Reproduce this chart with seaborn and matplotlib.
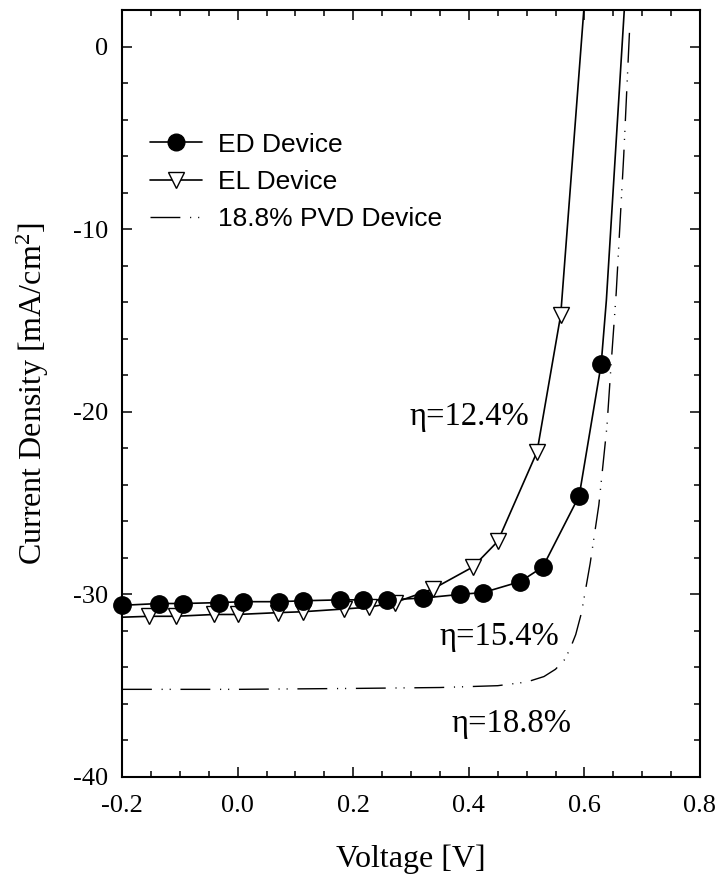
import numpy as np
import pandas as pd
import matplotlib
matplotlib.use("Agg")
import matplotlib.pyplot as plt
import seaborn as sns
from matplotlib.lines import Line2D
from matplotlib.ticker import MultipleLocator

# ---- data ----
ed_v = [-0.2, -0.136, -0.094, -0.032, 0.009, 0.072, 0.113, 0.177, 0.217, 0.258,
        0.321, 0.385, 0.425, 0.489, 0.528, 0.591, 0.629]
ed_j = [-30.6, -30.5, -30.5, -30.45, -30.4, -30.4, -30.35, -30.3, -30.3, -30.3,
        -30.2, -30.0, -29.9, -29.3, -28.5, -24.6, -17.4]
ed_line_v = ed_v + [0.638, 0.669, 0.672]
ed_line_j = ed_j + [-13.9, 2.0, 4.0]

el_v = [-0.153, -0.107, -0.041, 0.0, 0.07, 0.113, 0.184, 0.227, 0.272, 0.338,
        0.407, 0.45, 0.518, 0.559]
el_j = [-31.2, -31.2, -31.1, -31.1, -31.0, -30.95, -30.8, -30.7, -30.45, -29.7,
        -28.5, -27.1, -22.2, -14.7]
el_line_v = [-0.2] + el_v + [0.599, 0.601]
el_line_j = [-31.25] + el_j + [2.0, 4.0]

pvd_v = [-0.2, 0.0, 0.2, 0.35, 0.45, 0.5, 0.53, 0.55, 0.565, 0.575, 0.585, 0.595,
         0.61, 0.625, 0.639, 0.646, 0.655, 0.668, 0.678]
pvd_j = [-35.2, -35.2, -35.15, -35.1, -35.0, -34.8, -34.5, -34.1, -33.6, -33.0,
         -32.2, -31.0, -28.3, -25.1, -20.8, -17.5, -13.5, -6.0, 0.8]

labels = ["ED Device", "EL Device", "18.8% PVD Device"]
eff_text = ["\u03b7=12.4%", "\u03b7=15.4%", "\u03b7=18.8%"]
eff_x = [0.298, 0.35, 0.37]
eff_y = [-20.3, -32.3, -37.1]

x_ticks = [-0.2, 0.0, 0.2, 0.4, 0.6, 0.8]
y_ticks = [-40, -30, -20, -10, 0]

# ---- style ----
sns.set_theme(style="white")
plt.rcParams["font.family"] = ["Liberation Serif", "DejaVu Serif"]
plt.rcParams["mathtext.fontset"] = "custom"
plt.rcParams["mathtext.rm"] = "Liberation Serif"
plt.rcParams["mathtext.it"] = "Liberation Serif:italic"

fig = plt.figure(figsize=(7.18, 8.82), dpi=100)
ax = fig.add_axes([122/718, 1 - 777/882, 578/718, 767/882])

pvd_dash = (0, (21.5, 7.0, 0.8, 5.0, 0.8, 7.0))

ed_df = pd.DataFrame({"v": ed_line_v, "j": ed_line_j})
el_df = pd.DataFrame({"v": el_line_v, "j": el_line_j})
pvd_df = pd.DataFrame({"v": pvd_v, "j": pvd_j})

sns.lineplot(data=pvd_df, x="v", y="j", sort=False, estimator=None, ax=ax,
             color="black", lw=1.0, linestyle=pvd_dash)
sns.lineplot(data=el_df, x="v", y="j", sort=False, estimator=None, ax=ax,
             color="black", lw=1.2)
sns.lineplot(data=ed_df, x="v", y="j", sort=False, estimator=None, ax=ax,
             color="black", lw=1.2)
ax.plot(el_v, el_j, linestyle="none", marker="v", ms=12, mfc="white",
        mec="black", mew=1.0, clip_on=True, zorder=4)
ax.plot(ed_v, ed_j, linestyle="none", marker="o", ms=12.5, mfc="black",
        mec="black", clip_on=False, zorder=5)

ax.set_xlim(-0.2, 0.8)
ax.set_ylim(-40, 2)
ax.set_xticks(x_ticks)
ax.set_yticks(y_ticks)
ax.set_xticklabels([f"{t:.1f}" for t in x_ticks])
ax.set_yticklabels([str(t) for t in y_ticks])
ax.xaxis.set_minor_locator(MultipleLocator(0.05))
ax.yaxis.set_minor_locator(MultipleLocator(2))
ax.tick_params(which="both", direction="in", top=True, right=True,
               bottom=True, left=True, colors="black", width=1.1)
ax.tick_params(which="major", length=7.2, labelsize=19)
ax.tick_params(axis="x", which="major", pad=13)
ax.tick_params(axis="y", which="major", pad=10)
ax.tick_params(which="minor", length=4)
for s in ax.spines.values():
    s.set_color("black")
    s.set_linewidth(1.5)

ax.set_xlabel("Voltage [V]", fontsize=23, labelpad=20, color="black")
ax.set_ylabel("Current Density [mA/cm$^2$]", fontsize=23, labelpad=16, color="black")

for t, x, y in zip(eff_text, eff_x, eff_y):
    ax.text(x, y, t, fontsize=23.5, ha="left", va="center", color="black")

handles = [
    Line2D([], [], color="black", lw=1.2, marker="o", ms=12, mfc="black"),
    Line2D([], [], color="black", lw=1.2, marker="v", ms=11, mfc="white", mec="black"),
    Line2D([], [], color="black", lw=1.0, linestyle=pvd_dash),
]
leg = ax.legend(handles, labels, loc="upper left", bbox_to_anchor=(0.048, 0.840),
                frameon=False, borderpad=0, borderaxespad=0, handlelength=1.97,
                handletextpad=0.6, labelspacing=0.5,
                prop={"family": "Liberation Sans", "size": 19})
for txt in leg.get_texts():
    txt.set_color("black")

ax.set_facecolor("white")
fig.patch.set_facecolor("white")
fig.savefig("out.png", dpi=100, facecolor="white")
